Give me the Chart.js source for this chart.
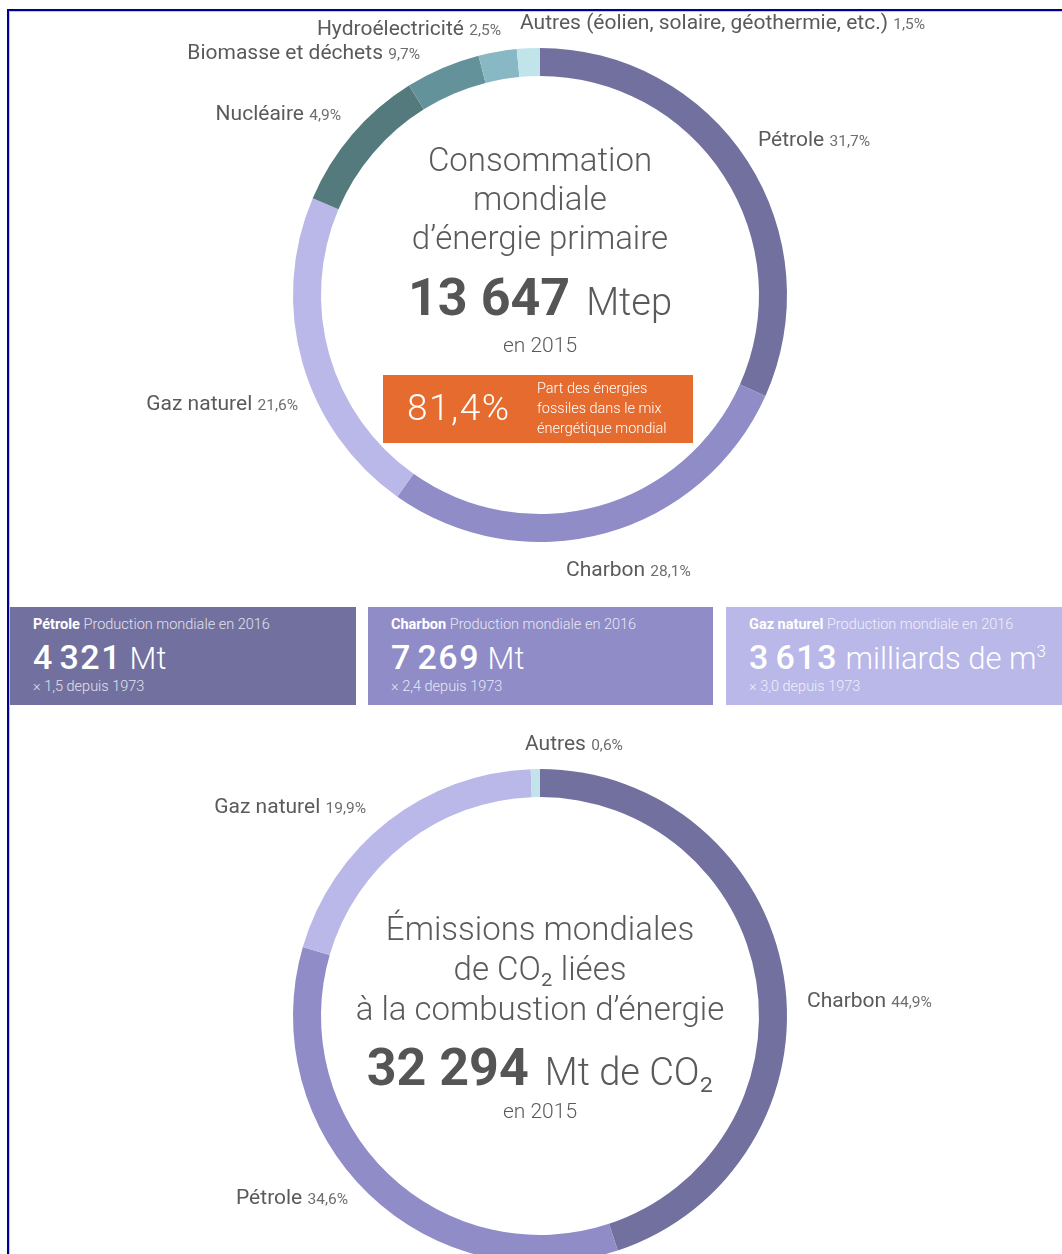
<!DOCTYPE html>
<html lang="fr">
<head>
<meta charset="utf-8">
<title>Consommation mondiale d'énergie primaire</title>
<script src="https://cdn.jsdelivr.net/npm/chart.js@4.4.0/dist/chart.umd.min.js"></script>
<style>
  html, body { margin: 0; padding: 0; background: #fff; }
  body { width: 1062px; height: 1254px; overflow: hidden; position: relative; font-family: Roboto, 'Noto Sans', sans-serif; }
  .frame { position: absolute; left: 7px; top: 9px; width: 2000px; height: 2000px;
           border-left: 2px solid #000090; border-top: 2px solid #000090; box-sizing: border-box; }
  .frame::after { content: ''; position: absolute; left: 0; top: 0; right: 0; bottom: 0;
                  border-left: 1px solid #c4c4f0; border-top: 1px solid #c4c4f0; }
  .chart { position: absolute; left: 0; width: 1062px; height: 600px; }
  .box { position: absolute; top: 607px; height: 98px; color: #fff; }
  .box div { position: absolute; left: 23px; white-space: nowrap; line-height: 1; }
  .box .t { top: 11px; font-size: 14.5px; font-weight: 300; }
  .box .t b { font-weight: 700; }
  .box .t span { opacity: 0.8; }
  .box .n { top: 33px; font-size: 31px; font-weight: 300; }
  .box .n b { font-size: 34px; font-weight: 500; letter-spacing: 1.5px; }
  .box .n sup { font-size: 17px; vertical-align: 12px; }
  .box .s { top: 73px; font-size: 14.5px; font-weight: 300; opacity: 0.8; }
</style>
</head>
<body>
<div class="frame"></div>
<div class="chart" style="top:0"><canvas id="energyChart"></canvas></div>
<div class="chart" style="top:721px"><canvas id="co2Chart"></canvas></div>
<div id="boxes"></div>

<script>
// --- données ---
const energyLabels = ['Pétrole', 'Charbon', 'Gaz naturel', 'Biomasse et déchets', 'Nucléaire', 'Hydroélectricité', 'Autres (éolien, solaire, géothermie, etc.)'];
const energyShares = [31.7, 28.1, 21.6, 9.7, 4.9, 2.5, 1.5];
const energyTotal = 13647;
const fossilShare = 81.4;

const co2Labels = ['Charbon', 'Pétrole', 'Gaz naturel', 'Autres'];
const co2Shares = [44.9, 34.6, 19.9, 0.6];
const co2Total = 32294;

const productionNames = ['Pétrole', 'Charbon', 'Gaz naturel'];
const productionValues = [4321, 7269, 3613];
const productionUnits = ['Mt', 'Mt', 'milliards de m'];
const productionGrowth = [1.5, 2.4, 3.0];

// --- style ---
const energyColors = ['#72709f', '#8f8cc8', '#b9b8e8', '#557a7e', '#64929a', '#88b8c4', '#c0e4ea'];
const co2Colors = ['#72709f', '#8f8cc8', '#b9b8e8', '#c0e4ea'];
const boxColors = ['#72709f', '#8f8cc8', '#b9b8e8'];
const boxLayout = [
    { left: 10, width: 346 },
    { left: 368, width: 345 },
    { left: 726, width: 336 }
];
// positions des étiquettes (x, ligne de base, alignement) dans le canvas
const energyLabelPos = [
    { x: 758, y: 146, align: 'left' },
    { x: 566, y: 576, align: 'left' },
    { x: 298, y: 410, align: 'right' },
    { x: 420, y: 59, align: 'right' },
    { x: 341, y: 120, align: 'right' },
    { x: 501, y: 35, align: 'right' },
    { x: 520, y: 29, align: 'left' }
];
const co2LabelPos = [
    { x: 807, y: 286, align: 'left' },
    { x: 348, y: 483, align: 'right' },
    { x: 366, y: 92, align: 'right' },
    { x: 525, y: 29, align: 'left' }
];

const FONT = 'Roboto, "Noto Sans", sans-serif';
const fmtPct = v => v.toFixed(1).replace('.', ',') + '%';
const fmtInt = v => String(v).replace(/\B(?=(\d{3})+(?!\d))/g, '\u202f');
const fmtBig = v => String(v).replace(/\B(?=(\d{3})+(?!\d))/g, ' ');

Chart.defaults.font.family = FONT;

// étiquettes autour de l'anneau
const ringLabels = {
    id: 'ringLabels',
    afterDatasetsDraw(chart, args, opts) {
        const ctx = chart.ctx;
        const names = chart.data.labels;
        const vals = chart.data.datasets[0].data;
        ctx.save();
        ctx.textBaseline = 'alphabetic';
        ctx.textAlign = 'left';
        opts.positions.forEach((p, i) => {
            const name = names[i] + ' ';
            const pct = fmtPct(vals[i]);
            ctx.font = '400 21px ' + FONT;
            const wName = ctx.measureText(name).width;
            ctx.font = '400 15.5px ' + FONT;
            const wPct = ctx.measureText(pct).width;
            const x0 = p.align === 'right' ? p.x - wName - wPct : p.x;
            ctx.font = '400 21px ' + FONT;
            ctx.fillStyle = '#5a5a5a';
            ctx.fillText(name, x0, p.y);
            ctx.font = '400 15.5px ' + FONT;
            ctx.fillStyle = '#6e6e6e';
            ctx.fillText(pct, x0 + wName, p.y);
        });
        ctx.restore();
    }
};

// texte central
const centerText = {
    id: 'centerText',
    afterDatasetsDraw(chart, args, opts) {
        const arc = chart.getDatasetMeta(0).data[0];
        if (!arc) return;
        const cx = arc.x, cy = arc.y;
        const ctx = chart.ctx;
        ctx.save();
        ctx.textBaseline = 'alphabetic';
        ctx.textAlign = 'center';
        ctx.fillStyle = '#5a5a5a';
        ctx.font = '300 33px ' + FONT;
        opts.lines.forEach((l, i) => ctx.fillText(l, cx, cy + opts.lineY[i]));

        // grand nombre + unité
        ctx.textAlign = 'left';
        ctx.font = '700 52px ' + FONT;
        const num = fmtBig(opts.total);
        const wNum = ctx.measureText(num).width;
        ctx.font = '300 38px ' + FONT;
        const wUnit = ctx.measureText(opts.unit).width;
        const gap = 16;
        const x0 = cx - (wNum + gap + wUnit) / 2;
        ctx.font = '700 52px ' + FONT;
        ctx.fillStyle = '#555';
        ctx.fillText(num, x0, cy + opts.numberY);
        ctx.font = '300 38px ' + FONT;
        ctx.fillStyle = '#5a5a5a';
        ctx.fillText(opts.unit, x0 + wNum + gap, cy + opts.numberY);

        ctx.textAlign = 'center';
        ctx.font = '300 21px ' + FONT;
        ctx.fillStyle = '#5a5a5a';
        ctx.fillText(opts.year, cx, cy + opts.yearY);

        if (opts.share !== undefined) {
            ctx.fillStyle = '#e56b2f';
            ctx.fillRect(cx - 157, cy + 80, 310, 68);
            ctx.fillStyle = '#fff';
            ctx.textAlign = 'left';
            ctx.font = '300 37px ' + FONT;
            if ('letterSpacing' in ctx) ctx.letterSpacing = '1.5px';
            ctx.fillText(fmtPct(opts.share), cx - 133, cy + 125);
            if ('letterSpacing' in ctx) ctx.letterSpacing = '0px';
            ctx.font = '300 14.5px ' + FONT;
            opts.shareText.forEach((t, i) => ctx.fillText(t, cx - 3, cy + 98 + i * 20));
        }
        ctx.restore();
    }
};

function makeRing(id, labels, values, palette, labelPos, center) {
    return new Chart(document.getElementById(id), {
        type: 'doughnut',
        data: {
            labels: labels,
            datasets: [{
                data: values,
                backgroundColor: palette,
                borderWidth: 0,
                hoverOffset: 0
            }]
        },
        options: {
            responsive: true,
            maintainAspectRatio: false,
            animation: false,
            cutout: 219,
            layout: { padding: { left: 293, right: 275, top: 48, bottom: 58 } },
            events: [],
            plugins: {
                legend: { display: false },
                tooltip: { enabled: false },
                ringLabels: { positions: labelPos },
                centerText: center
            }
        },
        plugins: [ringLabels, centerText]
    });
}

makeRing('energyChart', energyLabels, energyShares, energyColors, energyLabelPos, {
    lines: ['Consommation', 'mondiale', 'd’énergie primaire'],
    lineY: [-124, -85, -46],
    total: energyTotal,
    unit: 'Mtep',
    numberY: 20,
    year: 'en 2015',
    yearY: 57,
    share: fossilShare,
    shareText: ['Part des énergies', 'fossiles dans le mix', 'énergétique mondial']
});

makeRing('co2Chart', co2Labels, co2Shares, co2Colors, co2LabelPos, {
    lines: ['Émissions mondiales', 'de CO₂ liées', 'à la combustion d’énergie'],
    lineY: [-76, -36, 4],
    total: co2Total,
    unit: 'Mt de CO₂',
    numberY: 69,
    year: 'en 2015',
    yearY: 102
});

// encadrés production
const boxes = document.getElementById('boxes');
productionNames.forEach((name, i) => {
    const b = document.createElement('div');
    b.className = 'box';
    b.style.left = boxLayout[i].left + 'px';
    b.style.width = boxLayout[i].width + 'px';
    b.style.background = boxColors[i];
    const sup = productionUnits[i].startsWith('milliards') ? '<sup>3</sup>' : '';
    b.innerHTML =
        '<div class="t"><b>' + name + '</b> <span>Production mondiale en 2016</span></div>' +
        '<div class="n"><b>' + fmtInt(productionValues[i]) + '</b> ' + productionUnits[i] + sup + '</div>' +
        '<div class="s">× ' + productionGrowth[i].toFixed(1).replace('.', ',') + ' depuis 1973</div>';
    boxes.appendChild(b);
});
</script>
</body>
</html>
